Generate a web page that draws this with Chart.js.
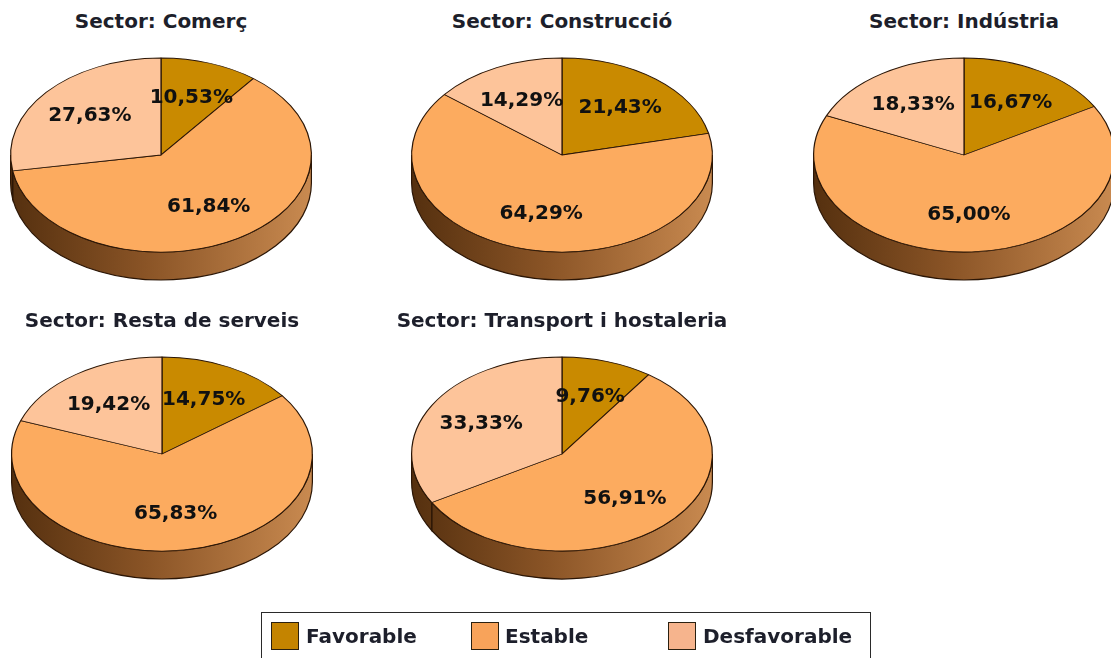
<!DOCTYPE html>
<html>
<head>
<meta charset="utf-8">
<script src="https://cdn.jsdelivr.net/npm/chart.js@4.4.1/dist/chart.umd.min.js"></script>
<style>
  body { margin: 0; background: #fff; }
  #page { position: relative; width: 1111px; height: 658px; overflow: hidden; background: #fff; }
  .pie { position: absolute; }
  .title { position: absolute; width: 420px; text-align: center; font-family: "DejaVu Sans", sans-serif;
           font-weight: bold; font-size: 20px; line-height: 24px; color: #1d1f2b; white-space: nowrap; }
  .legend-box { position: absolute; left: 261px; top: 612px; width: 608px; height: 60px; border: 1px solid #2a2a2a; }
  .swatch { position: absolute; top: 622px; width: 28px; height: 28px; border: 1px solid #2a2010; box-sizing: border-box; }
  .legtext { position: absolute; top: 622px; font-family: "DejaVu Sans", sans-serif; font-weight: bold; font-size: 20px;
             line-height: 28px; color: #1d1f2b; white-space: nowrap; }
</style>
</head>
<body>
<div id="page"></div>
<script>
const sectors = ['Sector: Comerç', 'Sector: Construcció', 'Sector: Indústria', 'Sector: Resta de serveis', 'Sector: Transport i hostaleria'];
const categories = ['Favorable', 'Estable', 'Desfavorable'];
const favorable = [10.53, 21.43, 16.67, 14.75, 9.76];
const estable = [61.84, 64.29, 65.00, 65.83, 56.91];
const desfavorable = [27.63, 14.29, 18.33, 19.42, 33.33];

const colors = ['#c98a00', '#fcab5f', '#fdc49a'];
const legendColors = ['#c48400', '#f8a35a', '#f6b48d'];

// where each pie sits on the page (center of the top face)
const centers = [[161, 155], [562, 155], [964, 155], [162, 454], [562, 454]];
const titleTops = [9, 9, 9, 308, 308];

const fmt = v => v.toFixed(2).replace('.', ',') + '%';

// squashes the pie into an ellipse and adds the brown side wall
const pie3d = {
  id: 'pie3d',
  beforeDatasetsDraw(chart, args, opts) {
    const meta = chart.getDatasetMeta(0);
    const a0 = meta.data[0];
    const cx = a0.x, cy = a0.y, r = a0.outerRadius;
    const ry = r * opts.tilt, d = opts.depth;
    const ctx = chart.ctx;
    const grad = ctx.createLinearGradient(cx - r, 0, cx + r, 0);
    grad.addColorStop(0, '#55300f');
    grad.addColorStop(0.45, '#8a5426');
    grad.addColorStop(1, '#c98a50');
    meta.data.forEach(arc => {
      const s = Math.max(arc.startAngle, 0), e = Math.min(arc.endAngle, Math.PI);
      if (e <= s) return;
      ctx.beginPath();
      ctx.ellipse(cx, cy, r, ry, 0, s, e);
      ctx.ellipse(cx, cy + d, r, ry, 0, e, s, true);
      ctx.closePath();
      ctx.fillStyle = grad;
      ctx.fill();
      ctx.lineWidth = 1.2;
      ctx.strokeStyle = '#2b1606';
      ctx.stroke();
    });
    ctx.save();
    ctx.translate(cx, cy);
    ctx.scale(1, opts.tilt);
    ctx.translate(-cx, -cy);
  },
  afterDatasetsDraw(chart) {
    chart.ctx.restore();
  },
  afterDraw(chart, args, opts) {
    const meta = chart.getDatasetMeta(0);
    const ctx = chart.ctx;
    const values = chart.data.datasets[0].data;
    ctx.save();
    ctx.font = 'bold 20px "DejaVu Sans"';
    ctx.fillStyle = '#111';
    ctx.textAlign = 'center';
    ctx.textBaseline = 'middle';
    meta.data.forEach((arc, i) => {
      const mid = (arc.startAngle + arc.endAngle) / 2;
      const x = arc.x + Math.cos(mid) * arc.outerRadius * 0.62;
      const y = arc.y + Math.sin(mid) * arc.outerRadius * opts.tilt * 0.62;
      ctx.fillText(fmt(values[i]), x, y);
    });
    ctx.restore();
  }
};

const page = document.getElementById('page');

sectors.forEach((name, k) => {
  const [cx, cy] = centers[k];
  const title = document.createElement('div');
  title.className = 'title';
  title.style.left = (cx - 210) + 'px';
  title.style.top = titleTops[k] + 'px';
  title.textContent = name;
  page.appendChild(title);

  const canvas = document.createElement('canvas');
  canvas.className = 'pie';
  canvas.width = 320;
  canvas.height = 320;
  canvas.style.width = '320px';
  canvas.style.height = '320px';
  canvas.style.left = (cx - 160) + 'px';
  canvas.style.top = (cy - 160) + 'px';
  page.appendChild(canvas);

  new Chart(canvas.getContext('2d'), {
    type: 'pie',
    data: {
      labels: categories,
      datasets: [{
        data: [favorable[k], estable[k], desfavorable[k]],
        backgroundColor: colors,
        borderColor: '#2b1606',
        borderWidth: 1.2,
      }],
    },
    options: {
      responsive: false,
      animation: false,
      layout: { padding: 9 },
      events: [],
      plugins: {
        legend: { display: false },
        tooltip: { enabled: false },
        pie3d: { tilt: 0.645, depth: 28 },
      },
    },
    plugins: [pie3d],
  });
});

// legend
const box = document.createElement('div');
box.className = 'legend-box';
page.appendChild(box);
const swatchX = [271, 471, 668];
const textX = [306, 505, 703];
categories.forEach((c, i) => {
  const sw = document.createElement('div');
  sw.className = 'swatch';
  sw.style.left = swatchX[i] + 'px';
  sw.style.background = legendColors[i];
  page.appendChild(sw);
  const t = document.createElement('div');
  t.className = 'legtext';
  t.style.left = textX[i] + 'px';
  t.textContent = c;
  page.appendChild(t);
});
</script>
</body>
</html>
